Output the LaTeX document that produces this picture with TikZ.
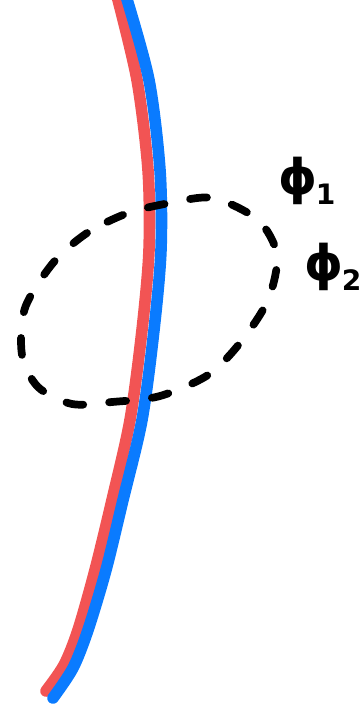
\documentclass[tikz,border=0pt]{standalone}
\usepackage{fontspec}
\usepackage{tikz}
\usetikzlibrary{positioning}
\newfontfamily\handfont{DejaVu Sans}
\definecolor{sketchred}{HTML}{F25454}
\definecolor{sketchblue}{HTML}{0A7BFF}
\definecolor{ink}{HTML}{000000}
\newcommand{\phisub}[1]{{\fontsize{28}{28}\selectfont\bfseries ϕ}\kern-0.1em\raisebox{-0.55em}{\fontsize{16}{16}\selectfont\bfseries #1}}

\begin{document}
\begin{tikzpicture}[x=0.02cm,y=-0.02cm,
  strand/.style={line width=6.6pt,line cap=round,line join=round},
  ring/.style={draw=ink,line width=4.4pt,line cap=round,
    dash pattern=on 0.34cm off 0.52cm},
  tag/.style={text=ink,inner sep=0pt,font=\handfont}]
\useasboundingbox (0,0) rectangle (360,707);
% the two strands
\draw[strand,sketchred] plot[smooth] coordinates {(117,-4) (137,80)
  (148,170) (149,250) (142,330) (130,420) (112,500) (95,570)
  (78,630) (64,665) (46,691)};
\draw[strand,sketchblue] plot[smooth] coordinates {(126,-4) (149,80)
  (160,170) (161,250) (154,330) (142,420) (123,500) (106,570)
  (88,630) (73,668) (53,698)};
% dashed loop
\draw[ring] plot[smooth cycle] coordinates {(128,213) (87,233) (53,263)
  (25,308) (22,355) (38,387) (72,404) (112,402) (160,396) (208,375)
  (240,343) (268,300) (277,255) (258,220) (213,198) (170,203)};
\node[tag] (phione) at (307,181) {\phisub{1}};
\node[tag] (phitwo) at (333,267) {\phisub{2}};
\end{tikzpicture}
\end{document}
